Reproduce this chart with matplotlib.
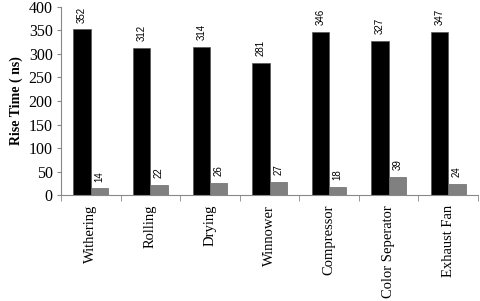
import numpy as np
from matplotlib import pyplot as plt

# data
categories = ['Withering', 'Rolling', 'Drying', 'Winnower', 'Compressor',
              'Color Seperator', 'Exhaust Fan']
series_a = [352, 312, 314, 281, 346, 327, 347]
series_b = [14, 22, 26, 27, 18, 39, 24]

fig = plt.figure(figsize=(4.8, 3.01), dpi=100)
ax = fig.add_axes([0.127, 0.352, 0.869, 0.625])

x = np.arange(len(categories)) + 0.5
w = 0.29
bars_a = ax.bar(x - 0.145, series_a, w, color='black', edgecolor='#555555', linewidth=0.5)
bars_b = ax.bar(x + 0.145, series_b, w, color='#808080', edgecolor='#6a6a6a', linewidth=0.5)

# value labels (rotated)
for bars in (bars_a, bars_b):
    for b in bars:
        ax.annotate('{}'.format(int(b.get_height())),
                    (b.get_x() + b.get_width() / 2, b.get_height()),
                    xytext=(0, 5), textcoords='offset points',
                    ha='center', va='bottom', rotation=90,
                    fontsize=7, family='Liberation Sans')

ax.set_xlim(0, 7)
ax.set_ylim(0, 400)
ax.set_yticks(range(0, 401, 50))
ax.tick_params(axis='y', length=3, color='#888888', labelsize=11.5, pad=3)
for t in ax.get_yticklabels():
    t.set_family('Liberation Serif')

# category labels at centers, tick marks at boundaries
ax.set_xticks(x)
ax.set_xticklabels(categories, rotation=90, family='Liberation Serif', fontsize=10.5)
ax.set_xticks(np.arange(0, 8), minor=True)
ax.tick_params(axis='x', which='major', length=0, pad=7)
ax.tick_params(axis='x', which='minor', length=4, color='#888888')

ax.set_ylabel('Rise Time ( ns)', family='Liberation Serif', fontweight='bold', fontsize=10, labelpad=4)

for s in ['top', 'right']:
    ax.spines[s].set_visible(False)
for s in ['left', 'bottom']:
    ax.spines[s].set_color('#888888')
    ax.spines[s].set_linewidth(0.8)

plt.savefig('out.png', dpi=100)
